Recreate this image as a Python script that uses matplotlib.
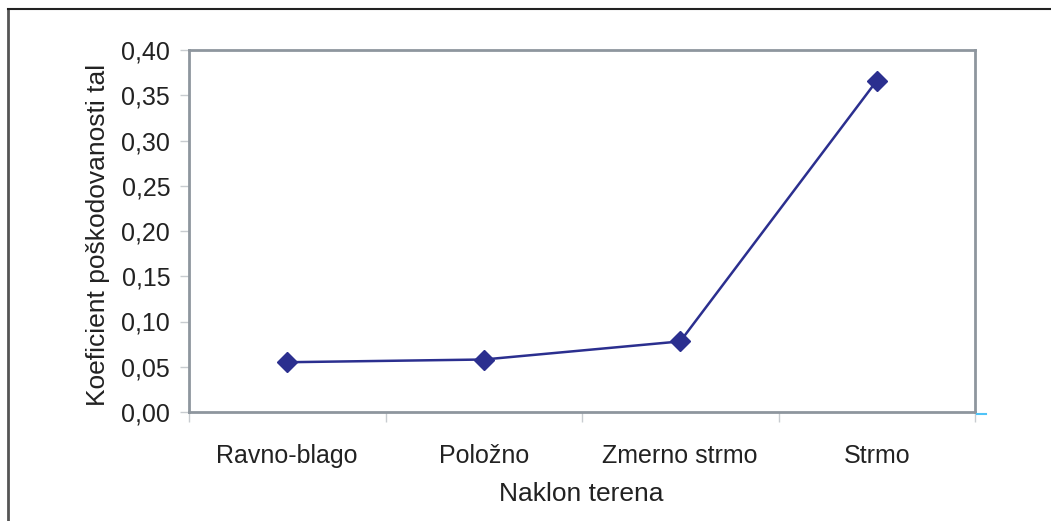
import matplotlib
matplotlib.use("Agg")
import matplotlib.pyplot as plt
from matplotlib.lines import Line2D

categories = ["Ravno-blago", "Položno", "Zmerno strmo", "Strmo"]
values = [0.055, 0.058, 0.078, 0.366]
yticks = [0.00, 0.05, 0.10, 0.15, 0.20, 0.25, 0.30, 0.35, 0.40]
ytick_labels = ["0,00", "0,05", "0,10", "0,15", "0,20", "0,25", "0,30", "0,35", "0,40"]

plt.rcParams['font.family'] = ['Liberation Sans', 'DejaVu Sans']

W, H = 1051, 521
fig = plt.figure(figsize=(W / 100, H / 100), dpi=100)
ax = fig.add_axes([189 / W, 1 - 412 / H, (975 - 189) / W, (412 - 50) / H])

x = list(range(len(categories)))
ax.plot(x, values, color="#2B2F8F", lw=1.8, marker="D", markersize=10,
        markerfacecolor="#2B2F8F", markeredgecolor="#2B2F8F")

ax.set_xlim(-0.5, len(categories) - 0.5)
ax.set_ylim(0, 0.40)
ax.set_yticks(yticks)
ax.set_yticklabels(ytick_labels, fontsize=18, color="#222222")

ax.set_xticks(x)
ax.set_xticklabels(categories, fontsize=18, color="#222222")
ax.tick_params(axis="x", which="major", length=0, pad=23)
ax.set_xticks([i - 0.5 for i in range(len(categories) + 1)], minor=True)
ax.tick_params(axis="x", which="minor", length=7, color="#C8CCD0", width=1)
ax.tick_params(axis="y", which="major", length=6.5, color="#C8CCD0", width=1, pad=7)

spine_col = "#8E969E"
for s in ax.spines.values():
    s.set_color(spine_col)
    s.set_linewidth(2)

fig.text(98 / W, 1 - 235 / H, "Koeficient poškodovanosti tal", rotation=90,
         ha="center", va="center", fontsize=19, color="#222222")
fig.text(581 / W, 1 - 494 / H, "Naklon terena", ha="center", va="center",
         fontsize=19, color="#222222")

# outer frame lines (left and top)
fig.add_artist(Line2D([8 / W, 8 / W], [0, 1 - 9 / H], transform=fig.transFigure,
                      color="#555555", lw=2))
fig.add_artist(Line2D([8 / W, 1], [1 - 9 / H, 1 - 9 / H], transform=fig.transFigure,
                      color="#222222", lw=1.5))
# small cyan mark at end of x axis
fig.add_artist(Line2D([977 / W, 986 / W], [1 - 414 / H, 1 - 414 / H], transform=fig.transFigure,
                      color="#4FC3F7", lw=1.5))

fig.savefig("out.png", dpi=100)
